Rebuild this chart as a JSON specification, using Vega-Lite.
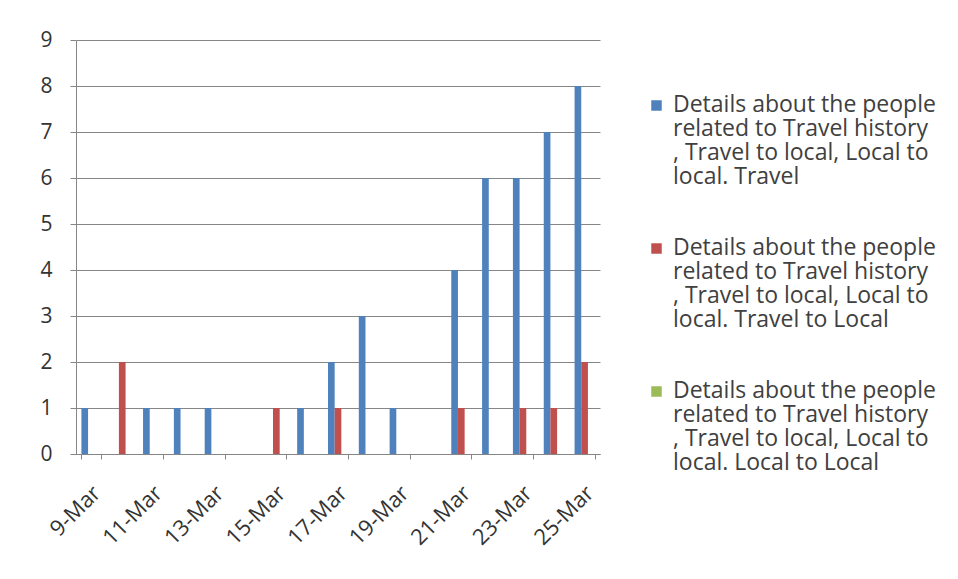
{
  "$schema": "https://vega.github.io/schema/vega-lite/v6.json",
  "width": 524,
  "height": 414,
  "autosize": {"type": "none"},
  "padding": {"left": 76, "top": 40, "right": 358, "bottom": 125},
  "background": "white",
  "config": {"view": {"stroke": null}, "font": "Open Sans"},
  "data": {
    "values": [
      {"date": "9-Mar", "series": "Details about the people\nrelated  to  Travel history\n, Travel to local, Local  to\nlocal. Travel", "count": 1},
      {"date": "9-Mar", "series": "Details about the people\nrelated  to  Travel history\n, Travel to local, Local  to\nlocal. Travel  to Local", "count": 0},
      {"date": "9-Mar", "series": "Details about the people\nrelated  to  Travel history\n, Travel to local, Local  to\nlocal. Local  to  Local", "count": 0},
      {"date": "10-Mar", "series": "Details about the people\nrelated  to  Travel history\n, Travel to local, Local  to\nlocal. Travel", "count": 0},
      {"date": "10-Mar", "series": "Details about the people\nrelated  to  Travel history\n, Travel to local, Local  to\nlocal. Travel  to Local", "count": 2},
      {"date": "10-Mar", "series": "Details about the people\nrelated  to  Travel history\n, Travel to local, Local  to\nlocal. Local  to  Local", "count": 0},
      {"date": "11-Mar", "series": "Details about the people\nrelated  to  Travel history\n, Travel to local, Local  to\nlocal. Travel", "count": 1},
      {"date": "11-Mar", "series": "Details about the people\nrelated  to  Travel history\n, Travel to local, Local  to\nlocal. Travel  to Local", "count": 0},
      {"date": "11-Mar", "series": "Details about the people\nrelated  to  Travel history\n, Travel to local, Local  to\nlocal. Local  to  Local", "count": 0},
      {"date": "12-Mar", "series": "Details about the people\nrelated  to  Travel history\n, Travel to local, Local  to\nlocal. Travel", "count": 1},
      {"date": "12-Mar", "series": "Details about the people\nrelated  to  Travel history\n, Travel to local, Local  to\nlocal. Travel  to Local", "count": 0},
      {"date": "12-Mar", "series": "Details about the people\nrelated  to  Travel history\n, Travel to local, Local  to\nlocal. Local  to  Local", "count": 0},
      {"date": "13-Mar", "series": "Details about the people\nrelated  to  Travel history\n, Travel to local, Local  to\nlocal. Travel", "count": 1},
      {"date": "13-Mar", "series": "Details about the people\nrelated  to  Travel history\n, Travel to local, Local  to\nlocal. Travel  to Local", "count": 0},
      {"date": "13-Mar", "series": "Details about the people\nrelated  to  Travel history\n, Travel to local, Local  to\nlocal. Local  to  Local", "count": 0},
      {"date": "14-Mar", "series": "Details about the people\nrelated  to  Travel history\n, Travel to local, Local  to\nlocal. Travel", "count": 0},
      {"date": "14-Mar", "series": "Details about the people\nrelated  to  Travel history\n, Travel to local, Local  to\nlocal. Travel  to Local", "count": 0},
      {"date": "14-Mar", "series": "Details about the people\nrelated  to  Travel history\n, Travel to local, Local  to\nlocal. Local  to  Local", "count": 0},
      {"date": "15-Mar", "series": "Details about the people\nrelated  to  Travel history\n, Travel to local, Local  to\nlocal. Travel", "count": 0},
      {"date": "15-Mar", "series": "Details about the people\nrelated  to  Travel history\n, Travel to local, Local  to\nlocal. Travel  to Local", "count": 1},
      {"date": "15-Mar", "series": "Details about the people\nrelated  to  Travel history\n, Travel to local, Local  to\nlocal. Local  to  Local", "count": 0},
      {"date": "16-Mar", "series": "Details about the people\nrelated  to  Travel history\n, Travel to local, Local  to\nlocal. Travel", "count": 1},
      {"date": "16-Mar", "series": "Details about the people\nrelated  to  Travel history\n, Travel to local, Local  to\nlocal. Travel  to Local", "count": 0},
      {"date": "16-Mar", "series": "Details about the people\nrelated  to  Travel history\n, Travel to local, Local  to\nlocal. Local  to  Local", "count": 0},
      {"date": "17-Mar", "series": "Details about the people\nrelated  to  Travel history\n, Travel to local, Local  to\nlocal. Travel", "count": 2},
      {"date": "17-Mar", "series": "Details about the people\nrelated  to  Travel history\n, Travel to local, Local  to\nlocal. Travel  to Local", "count": 1},
      {"date": "17-Mar", "series": "Details about the people\nrelated  to  Travel history\n, Travel to local, Local  to\nlocal. Local  to  Local", "count": 0},
      {"date": "18-Mar", "series": "Details about the people\nrelated  to  Travel history\n, Travel to local, Local  to\nlocal. Travel", "count": 3},
      {"date": "18-Mar", "series": "Details about the people\nrelated  to  Travel history\n, Travel to local, Local  to\nlocal. Travel  to Local", "count": 0},
      {"date": "18-Mar", "series": "Details about the people\nrelated  to  Travel history\n, Travel to local, Local  to\nlocal. Local  to  Local", "count": 0},
      {"date": "19-Mar", "series": "Details about the people\nrelated  to  Travel history\n, Travel to local, Local  to\nlocal. Travel", "count": 1},
      {"date": "19-Mar", "series": "Details about the people\nrelated  to  Travel history\n, Travel to local, Local  to\nlocal. Travel  to Local", "count": 0},
      {"date": "19-Mar", "series": "Details about the people\nrelated  to  Travel history\n, Travel to local, Local  to\nlocal. Local  to  Local", "count": 0},
      {"date": "20-Mar", "series": "Details about the people\nrelated  to  Travel history\n, Travel to local, Local  to\nlocal. Travel", "count": 0},
      {"date": "20-Mar", "series": "Details about the people\nrelated  to  Travel history\n, Travel to local, Local  to\nlocal. Travel  to Local", "count": 0},
      {"date": "20-Mar", "series": "Details about the people\nrelated  to  Travel history\n, Travel to local, Local  to\nlocal. Local  to  Local", "count": 0},
      {"date": "21-Mar", "series": "Details about the people\nrelated  to  Travel history\n, Travel to local, Local  to\nlocal. Travel", "count": 4},
      {"date": "21-Mar", "series": "Details about the people\nrelated  to  Travel history\n, Travel to local, Local  to\nlocal. Travel  to Local", "count": 1},
      {"date": "21-Mar", "series": "Details about the people\nrelated  to  Travel history\n, Travel to local, Local  to\nlocal. Local  to  Local", "count": 0},
      {"date": "22-Mar", "series": "Details about the people\nrelated  to  Travel history\n, Travel to local, Local  to\nlocal. Travel", "count": 6},
      {"date": "22-Mar", "series": "Details about the people\nrelated  to  Travel history\n, Travel to local, Local  to\nlocal. Travel  to Local", "count": 0},
      {"date": "22-Mar", "series": "Details about the people\nrelated  to  Travel history\n, Travel to local, Local  to\nlocal. Local  to  Local", "count": 0},
      {"date": "23-Mar", "series": "Details about the people\nrelated  to  Travel history\n, Travel to local, Local  to\nlocal. Travel", "count": 6},
      {"date": "23-Mar", "series": "Details about the people\nrelated  to  Travel history\n, Travel to local, Local  to\nlocal. Travel  to Local", "count": 1},
      {"date": "23-Mar", "series": "Details about the people\nrelated  to  Travel history\n, Travel to local, Local  to\nlocal. Local  to  Local", "count": 0},
      {"date": "24-Mar", "series": "Details about the people\nrelated  to  Travel history\n, Travel to local, Local  to\nlocal. Travel", "count": 7},
      {"date": "24-Mar", "series": "Details about the people\nrelated  to  Travel history\n, Travel to local, Local  to\nlocal. Travel  to Local", "count": 1},
      {"date": "24-Mar", "series": "Details about the people\nrelated  to  Travel history\n, Travel to local, Local  to\nlocal. Local  to  Local", "count": 0},
      {"date": "25-Mar", "series": "Details about the people\nrelated  to  Travel history\n, Travel to local, Local  to\nlocal. Travel", "count": 8},
      {"date": "25-Mar", "series": "Details about the people\nrelated  to  Travel history\n, Travel to local, Local  to\nlocal. Travel  to Local", "count": 2},
      {"date": "25-Mar", "series": "Details about the people\nrelated  to  Travel history\n, Travel to local, Local  to\nlocal. Local  to  Local", "count": 0}
    ]
  },
  "mark": {"type": "bar"},
  "encoding": {
    "x": {
      "field": "date",
      "type": "ordinal",
      "sort": null,
      "title": null,
      "scale": {"paddingInner": 0.35, "paddingOuter": 0.175},
      "axis": {
        "values": ["9-Mar", "11-Mar", "13-Mar", "15-Mar", "17-Mar", "19-Mar", "21-Mar", "23-Mar", "25-Mar"],
        "tickBand": "extent",
        "domainColor": "#868686",
        "tickColor": "#868686",
        "tickSize": 5,
        "labelAngle": -45,
        "labelAlign": "right",
        "labelBaseline": "top",
        "labelPadding": 23,
        "labelOffset": -2,
        "labelFontSize": 22,
        "labelColor": "#333333",
        "grid": false
      }
    },
    "xOffset": {
      "field": "series",
      "sort": null,
      "scale": {"paddingInner": 0, "paddingOuter": 0}
    },
    "y": {
      "field": "count",
      "type": "quantitative",
      "title": null,
      "scale": {"domain": [0, 9], "nice": false},
      "axis": {
        "values": [0, 1, 2, 3, 4, 5, 6, 7, 8, 9],
        "domainColor": "#868686",
        "tickColor": "#868686",
        "gridColor": "#868686",
        "tickSize": 6,
        "labelPadding": 18,
        "labelFontSize": 21,
        "labelColor": "#333333"
      }
    },
    "color": {
      "field": "series",
      "type": "nominal",
      "sort": null,
      "scale": {
        "domain": [
          "Details about the people\nrelated  to  Travel history\n, Travel to local, Local  to\nlocal. Travel",
          "Details about the people\nrelated  to  Travel history\n, Travel to local, Local  to\nlocal. Travel  to Local",
          "Details about the people\nrelated  to  Travel history\n, Travel to local, Local  to\nlocal. Local  to  Local"
        ],
        "range": ["#4F81BD", "#C0504D", "#9BBB59"]
      },
      "legend": {
        "title": null,
        "orient": "none",
        "legendX": 569,
        "legendY": 54,
        "symbolType": "square",
        "symbolSize": 110,
        "symbolStrokeWidth": 0,
        "labelExpr": "split(datum.label, '\\n')",
        "labelFontSize": 23,
        "labelColor": "#404040",
        "labelBaseline": "top",
        "labelOffset": 5,
        "labelLimit": 400,
        "rowPadding": 47,
        "encode": {"labels": {"update": {"lineHeight": {"value": 24}, "dy": {"value": -12}}}}
      }
    }
  }
}
